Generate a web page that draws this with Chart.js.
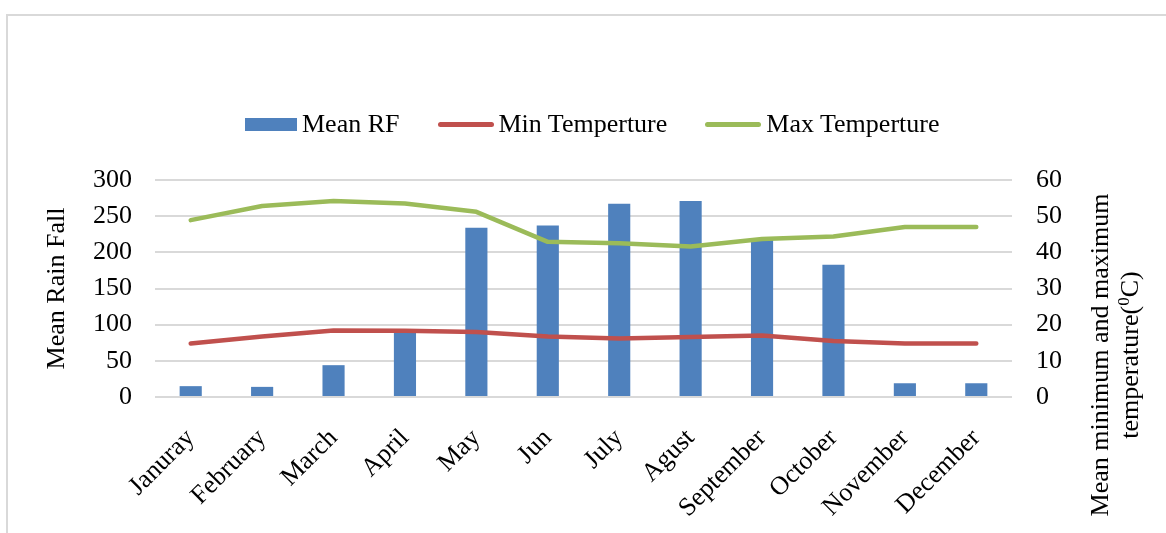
<!DOCTYPE html>
<html>
<head>
<meta charset="utf-8">
<script src="https://cdn.jsdelivr.net/npm/chart.js@4/dist/chart.umd.min.js"></script>
<style>
  html, body { margin: 0; padding: 0; background: #fff; overflow: hidden; }
  #wrap { position: relative; width: 1166px; height: 533px; }
  #frame { position: absolute; left: 6px; top: 14px; width: 1300px; height: 700px;
           border-left: 2.5px solid #d9d9d9; border-top: 2.5px solid #d9d9d9; box-sizing: border-box; }
  #chart { position: absolute; left: 0; top: 0; }
  #legend { position: absolute; left: 245px; top: 108px; height: 32px; display: flex; align-items: center;
            font-family: "Liberation Serif", "Times New Roman", serif; font-size: 26px; color: #000; white-space: nowrap; }
  .item { display: flex; align-items: center; margin-right: 38px; }
  .item span.mk { display: inline-block; margin-right: 5px; }
</style>
</head>
<body>
<div id="wrap">
  <div id="frame"></div>
  <canvas id="chart" width="1166" height="533"></canvas>
  <div id="legend"></div>
</div>
<script>
// Monthly climate summary
const months = ['Januray', 'February', 'March', 'April', 'May', 'Jun', 'July', 'Agust', 'September', 'October', 'November', 'December'];
const meanRainFall = [15, 14, 44, 90, 234, 237, 267, 271, 217, 183, 19, 19];
const minTemperature = [14.8, 16.7, 18.4, 18.3, 18.0, 16.7, 16.2, 16.6, 17.0, 15.5, 14.8, 14.8];
const maxTemperature = [48.9, 52.8, 54.2, 53.5, 51.2, 42.9, 42.5, 41.6, 43.7, 44.4, 47.0, 47.0];
const rainTicks = [0, 50, 100, 150, 200, 250, 300];
const tempTicks = [0, 10, 20, 30, 40, 50, 60];

const FONT = '"Liberation Serif", "Times New Roman", serif';
const BLUE = '#4f81bd', RED = '#c0504d', GREEN = '#9bbb59', GRID = '#d9d9d9';

// Two-line title for the temperature axis, drawn beside the right-hand ticks.
// Second line carries a small raised "0" before the C.
const tempAxisTitle = {
  id: 'tempAxisTitle',
  afterDraw(chart) {
    const { ctx, chartArea } = chart;
    const cy = chartArea.bottom - 42;
    const big = '26px ' + FONT, small = '17px ' + FONT;
    ctx.save();
    ctx.fillStyle = '#000';
    ctx.textBaseline = 'alphabetic';

    // line 1
    ctx.save();
    ctx.font = big;
    ctx.textAlign = 'center';
    ctx.translate(chartArea.right + 96, cy);
    ctx.rotate(-Math.PI / 2);
    ctx.fillText('Mean minimum and maximum', 0, 0);
    ctx.restore();

    // line 2: "temperature(" + superscript "0" + "C)"
    const parts = [['temperature(', big, 0], ['0', small, -9], ['C)', big, 0]];
    let total = 0;
    parts.forEach(p => { ctx.font = p[1]; p.push(ctx.measureText(p[0]).width); total += p[3]; });
    ctx.save();
    ctx.textAlign = 'left';
    ctx.translate(chartArea.right + 126, cy);
    ctx.rotate(-Math.PI / 2);
    let x = -total / 2;
    parts.forEach(p => { ctx.font = p[1]; ctx.fillText(p[0], x, p[2]); x += p[3]; });
    ctx.restore();

    ctx.restore();
  }
};

const chart = new Chart(document.getElementById('chart'), {
  data: {
    labels: months,
    datasets: [
      { type: 'line', label: 'Min Temperture', data: minTemperature, yAxisID: 'yTemp',
        borderColor: RED, backgroundColor: RED, borderWidth: 4.5, pointRadius: 0, tension: 0,
        borderCapStyle: 'round', borderJoinStyle: 'round', order: 1 },
      { type: 'line', label: 'Max Temperture', data: maxTemperature, yAxisID: 'yTemp',
        borderColor: GREEN, backgroundColor: GREEN, borderWidth: 4.5, pointRadius: 0, tension: 0,
        borderCapStyle: 'round', borderJoinStyle: 'round', order: 1 },
      { type: 'bar', label: 'Mean RF', data: meanRainFall, yAxisID: 'yRain',
        backgroundColor: BLUE, barPercentage: 0.31, categoryPercentage: 1, order: 2 }
    ]
  },
  options: {
    responsive: false,
    animation: false,
    layout: { padding: { top: 180, left: 0, right: 0, bottom: 0 } },
    plugins: { legend: { display: false }, tooltip: { enabled: false } },
    scales: {
      x: {
        grid: { display: false },
        border: { display: false },
        ticks: { color: '#000', font: { family: FONT, size: 26 }, minRotation: 45, maxRotation: 45, padding: 18, autoSkip: false },
        afterFit: s => { s.height = 136; }
      },
      yRain: {
        position: 'left', min: 0, max: 300,
        afterBuildTicks: s => { s.ticks = rainTicks.map(v => ({ value: v })); },
        grid: { color: GRID, lineWidth: 2, drawTicks: false },
        border: { display: false },
        ticks: { color: '#000', font: { family: FONT, size: 26 }, padding: 23 },
        title: { display: true, text: 'Mean Rain Fall', color: '#000', font: { family: FONT, size: 26 }, padding: { top: 42, bottom: 0 } },
        afterFit: s => { s.width = 155; }
      },
      yTemp: {
        position: 'right', min: 0, max: 60,
        afterBuildTicks: s => { s.ticks = tempTicks.map(v => ({ value: v })); },
        grid: { display: false, drawTicks: false },
        border: { display: false },
        ticks: { color: '#000', font: { family: FONT, size: 26 }, padding: 24 },
        afterFit: s => { s.width = 154; }
      }
    }
  },
  plugins: [tempAxisTitle]
});

// Legend built from the dataset styles, in the order bar, min, max
const legend = document.getElementById('legend');
[2, 0, 1].forEach(i => {
  const ds = chart.data.datasets[i];
  const item = document.createElement('div');
  item.className = 'item';
  const mk = document.createElement('span');
  mk.className = 'mk';
  if (ds.type === 'bar') {
    mk.style.cssText = 'width:52px;height:13px;background:' + ds.backgroundColor;
  } else {
    mk.style.cssText = 'width:56px;height:5px;border-radius:3px;background:' + ds.borderColor;
  }
  const tx = document.createElement('span');
  tx.textContent = ds.label;
  item.appendChild(mk);
  item.appendChild(tx);
  legend.appendChild(item);
});
</script>
</body>
</html>
